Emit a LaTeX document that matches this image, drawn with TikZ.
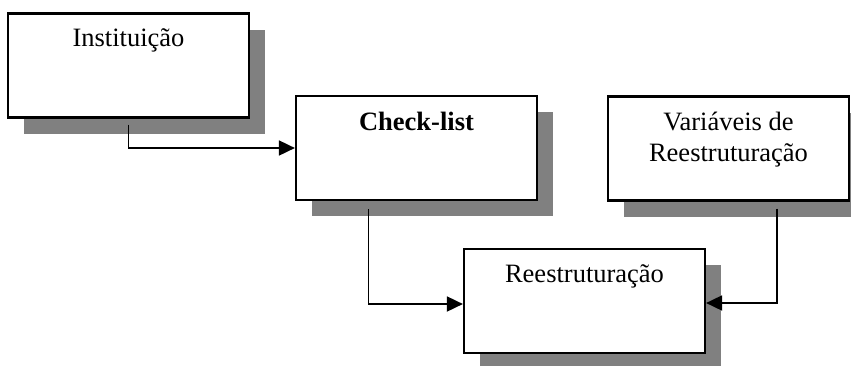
\documentclass[tikz,border=0pt]{standalone}
\usepackage{fontspec}
\setmainfont{Liberation Serif}
\usetikzlibrary{arrows.meta,shadows}

\begin{document}
\begin{tikzpicture}[
    x=1pt, y=-1pt,
    stagebox/.style={draw=black, line width=2.2pt, fill=white,
      minimum width=241pt, minimum height=104pt, inner sep=0pt,
      drop shadow={shadow xshift=16pt, shadow yshift=-16pt,
        fill=black!50, opacity=1}},
    caption/.style={font=\fontsize{26.5}{31}\selectfont, inner sep=0pt,
      align=center, anchor=base},
    link/.style={line width=1.8pt,
      -{Triangle[length=16pt,width=15pt]}}
  ]
  \clip (0,0) rectangle (851,365);

  % boxes
  \node[stagebox] (inst)  at (128.5, 65.5)  {};
  \node[stagebox] (check) at (416.5, 148)   {};
  \node[stagebox] (vars)  at (728.5, 148.5) {};
  \node[stagebox] (reest) at (584.5, 301)   {};

  % captions (the base anchor of a two-line caption is its last line)
  \node[caption] (instT)  at ([yshift=-34pt]inst.north)  {Instituição};
  \node[caption] (checkT) at ([yshift=-36pt]check.north) {\bfseries Check-list};
  \node[caption] (varsT)  at ([yshift=-66.5pt]vars.north) {Variáveis de\\Reestruturação};
  \node[caption] (reestT) at ([yshift=-35pt]reest.north) {Reestruturação};

  % connector start points just below each box
  \coordinate (instOut)  at ([yshift=-6pt]inst.south);
  \coordinate (checkOut) at ([xshift=-48pt,yshift=-8pt]check.south);
  \coordinate (varsOut)  at ([xshift=48.5pt,yshift=-7pt]vars.south);
  \coordinate (reestL)   at ([yshift=-3pt]reest.west);
  \coordinate (reestR)   at ([yshift=-2pt]reest.east);

  % connectors
  \draw[link] (instOut)  |- (check.west);
  \draw[link] (checkOut) |- (reestL);
  \draw[link] (varsOut)  |- (reestR);
\end{tikzpicture}
\end{document}
